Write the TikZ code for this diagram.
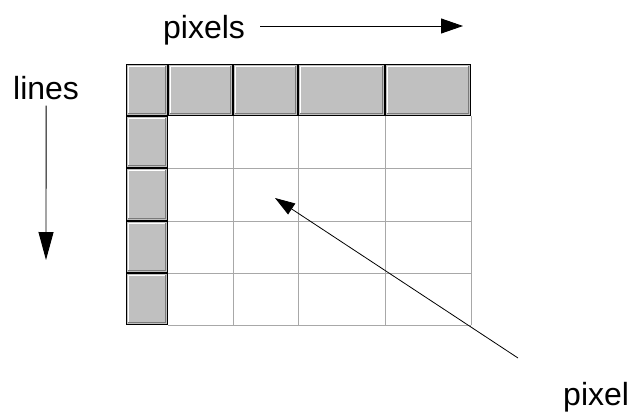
\documentclass[tikz,border=0pt]{standalone}
\usepackage{fontspec}
\setmainfont{Liberation Sans}
\usetikzlibrary{arrows.meta,positioning}

\definecolor{cellgray}{HTML}{C0C0C0}
\definecolor{gridgray}{HTML}{A8A8A8}
\definecolor{shadegray}{HTML}{7A7A7A}

\begin{document}
\begin{tikzpicture}[
    x=1pt, y=-1pt,
    font=\fontsize{32}{36}\selectfont,
    label/.style={inner sep=0pt, anchor=base west},
    axis/.style={-{Triangle[length=22pt,width=15pt]}, line width=0.9pt},
    gridline/.style={draw=gridgray, line width=1pt},
    cell/.style={
        draw, line width=1pt, fill=cellgray,
        inner sep=0pt, outer sep=0pt,
        path picture={
            \draw[white, line width=1.4pt]
                ([shift={(1.8pt,1.8pt)}]path picture bounding box.south west) |-
                ([shift={(-1.8pt,-1.8pt)}]path picture bounding box.north east);
            \draw[shadegray, line width=1.4pt]
                ([shift={(1.8pt,1.8pt)}]path picture bounding box.south west) -|
                ([shift={(-1.8pt,-1.8pt)}]path picture bounding box.north east);
        }}]
    \useasboundingbox (0,0) rectangle (636,415);

    % plain cells
    \foreach \x in {233,298,385,471}
        \draw[gridline] (\x,116) -- (\x,325);
    \foreach \y in {168,221,273,325}
        \draw[gridline] (168,\y) -- (471,\y);

    % raised cells along the top and the left side
    \foreach \a/\b [count=\i] in {126/168,168/233,233/298,298/385,385/471}
        \node[cell, minimum width={(\b-\a-1)*1pt}, minimum height=51pt]
            (col\i) at ({(\a+\b)/2},90) {};
    \foreach \a/\b [count=\i] in {116/168,168/221,221/273,273/325}
        \node[cell, minimum width=41pt, minimum height={(\b-\a-1)*1pt}]
            (row\i) at (147,{(\a+\b)/2}) {};

    \node[label] (pixels) at (163,38) {pixels};
    \node[label] (lines) at (13,99) {lines};
    \node[label] (pixel) at (563,405) {pixel};

    \coordinate (pixels end) at (463,26);
    \coordinate (lines end) at (46,260);
    \coordinate (pixel tail) at (518,358);
    \coordinate (pixel tip) at (275,198);

    \draw[axis] ([xshift=15pt,yshift=12pt]pixels.base east) -- (pixels end);
    \draw[axis, -{Triangle[length=28pt,width=15pt]}]
        ([yshift=-6pt]lines.south) -- (lines end);
    \draw[-{Triangle[length=20pt,width=13pt]}, line width=0.8pt]
        (pixel tail) -- (pixel tip);
\end{tikzpicture}
\end{document}
